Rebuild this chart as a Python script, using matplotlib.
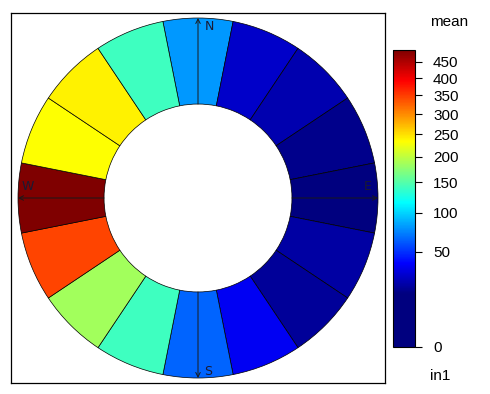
import numpy as np
import matplotlib
matplotlib.use("Agg")
import matplotlib.pyplot as plt
from matplotlib.patches import Wedge
from matplotlib.colors import FuncNorm, ListedColormap, LinearSegmentedColormap
from matplotlib.cm import ScalarMappable

plt.rcParams['font.family'] = ['Liberation Sans', 'DejaVu Sans']

# wind direction sectors (bearing of sector centre, degrees from north)
directions = ["N", "NNE", "NE", "ENE", "E", "ESE", "SE", "SSE",
              "S", "SSW", "SW", "WSW", "W", "WNW", "NW", "NNW"]
bearings = [0, 22.5, 45, 67.5, 90, 112.5, 135, 157.5,
            180, 202.5, 225, 247.5, 270, 292.5, 315, 337.5]
# mean of in1 per sector
mean_vals = [79, 28, 23, 17.4, 15.5, 21, 19.6, 36,
             64, 140, 185, 345, 488, 233, 240, 140]
key_ticks = [0, 50, 100, 150, 200, 250, 300, 350, 400, 450]
jet_cols = ["#00007F", "#0000FF", "#007FFF", "#00FFFF", "#7FFF7F",
            "#FFFF00", "#FF7F00", "#FF0000", "#7F0000"]

r_out = 1.0
r_in = 0.522

# jet colours spread over sqrt(min)..sqrt(max), navy below the data minimum
jet = LinearSegmentedColormap.from_list("jet9", jet_cols, N=512)
vmax = max(mean_vals)
frac = np.sqrt(min(mean_vals)) / np.sqrt(vmax)
u = np.linspace(0, 1, 512)
t = np.clip((u - frac) / (1 - frac), 0, 1)
cmap = ListedColormap(jet(t))
norm = FuncNorm((np.sqrt, np.square), vmin=0, vmax=vmax)

fig = plt.figure(figsize=(4.9, 3.94), dpi=100)
ax = fig.add_axes([11 / 490, 1 - 383 / 394, 374 / 490, 370 / 394])
ax.set_xlim(-187 / 180, 187 / 180)
ax.set_ylim(-185 / 180, 185 / 180)
ax.set_aspect("equal")
ax.set_xticks([])
ax.set_yticks([])
for sp in ax.spines.values():
    sp.set_linewidth(0.9)

for b, v in zip(bearings, mean_vals):
    a = 90 - b
    w = Wedge((0, 0), r_out, a - 11.25, a + 11.25, width=r_out - r_in,
              facecolor=cmap(norm(v)), edgecolor="black", linewidth=0.5)
    ax.add_patch(w)

# compass arrows
for ang in [90, 0, -90, 180]:
    c, s = np.cos(np.radians(ang)), np.sin(np.radians(ang))
    ax.annotate("", xy=(r_out * c, r_out * s), xytext=(r_in * c, r_in * s),
                arrowprops=dict(arrowstyle="->", lw=0.7, color="#1a1a1a",
                                shrinkA=0, shrinkB=0, mutation_scale=8))

lab_kw = dict(fontsize=9, color="#1a1a33", family=['DejaVu Sans'])
ax.text(0.035, 0.955, "N", ha="left", va="center", **lab_kw)
ax.text(0.94, 0.065, "E", ha="center", va="center", **lab_kw)
ax.text(0.035, -0.965, "S", ha="left", va="center", **lab_kw)
ax.text(-0.945, 0.065, "W", ha="center", va="center", **lab_kw)

# colour key
cax = fig.add_axes([393 / 490, 1 - 347 / 394, 22 / 490, 297 / 394])
sm = ScalarMappable(norm=norm, cmap=cmap)
cb = fig.colorbar(sm, cax=cax)
cb.set_ticks(key_ticks)
cb.set_ticklabels([str(k) for k in key_ticks])
cb.outline.set_linewidth(0.8)
cax.tick_params(length=5, width=0.8, labelsize=11, pad=8)
fig.text(430 / 490, 1 - 22 / 394, "mean", fontsize=11, ha="left", va="center")
fig.text(430 / 490, 1 - 376 / 394, "in1", fontsize=11, ha="left", va="center")

fig.savefig("out.png", dpi=100)
